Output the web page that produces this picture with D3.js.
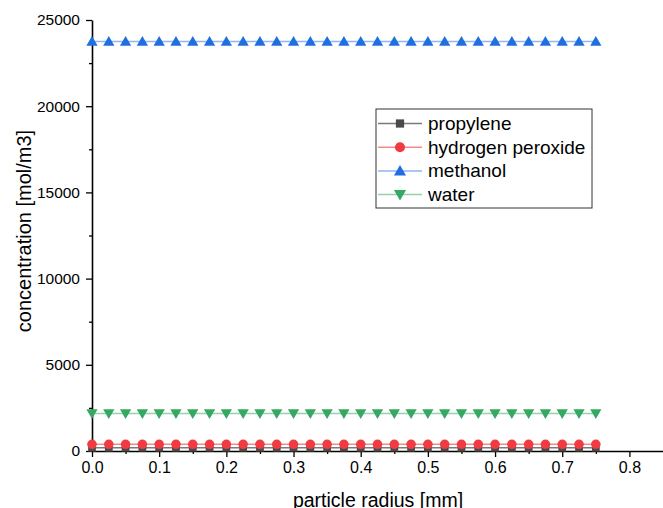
<!DOCTYPE html>
<html>
<head>
<meta charset="utf-8">
<script src="https://cdn.jsdelivr.net/npm/d3@7"></script>
<style>
  body { margin: 0; background: #fff; }
  svg { font-family: "Liberation Sans", Arial, sans-serif; }
</style>
</head>
<body>
<script>
// data
const radius = [0, 0.025, 0.05, 0.075, 0.1, 0.125, 0.15, 0.175, 0.2, 0.225, 0.25, 0.275, 0.3,
  0.325, 0.35, 0.375, 0.4, 0.425, 0.45, 0.475, 0.5, 0.525, 0.55, 0.575, 0.6, 0.625, 0.65,
  0.675, 0.7, 0.725, 0.75]
const seriesNames = ['propylene', 'hydrogen peroxide', 'methanol', 'water']
const propylene = radius.map(() => 190)
const hydrogenPeroxide = radius.map(() => 390)
const methanol = radius.map(() => 23750)
const water = radius.map(() => 2170)
const xTicks = [0, 0.1, 0.2, 0.3, 0.4, 0.5, 0.6, 0.7, 0.8]
const yTicks = [0, 5000, 10000, 15000, 20000, 25000]

const series = [
  {name: seriesNames[0], values: propylene, line: '#7a7a7a', fill: '#4a4a4a', sym: d3.symbolSquare, size: 60, rot: 0},
  {name: seriesNames[1], values: hydrogenPeroxide, line: '#f28a8c', fill: '#ef3b41', sym: d3.symbolCircle, size: 72, rot: 0},
  {name: seriesNames[2], values: methanol, line: '#8fb6ee', fill: '#1f6fde', sym: d3.symbolTriangle, size: 55, rot: 0},
  {name: seriesNames[3], values: water, line: '#92d3ad', fill: '#35a862', sym: d3.symbolTriangle, size: 55, rot: 180}
]

const W = 663, H = 508
const margin = {top: 20, right: 0, bottom: 57, left: 92}

const svg = d3.select('body').append('svg')
  .attr('width', W)
  .attr('height', H)

const x = d3.scaleLinear().domain([0, 0.85]).range([margin.left, W - margin.right])
const y = d3.scaleLinear().domain([0, 25000]).range([H - margin.bottom, margin.top])

// axes
const xAxis = d3.axisBottom(x).tickValues(xTicks).tickFormat(d3.format('.1f')).tickSize(6).tickPadding(5).tickSizeOuter(0)
const gx = svg.append('g')
  .attr('transform', `translate(0,${y(0)})`)
  .call(xAxis)
gx.selectAll('text').style('font-size', '16px').attr('fill', '#000')
gx.select('.domain').attr('stroke-width', 1.6)
gx.selectAll('.tick line').attr('stroke-width', 1.3)
svg.append('g')
  .attr('transform', `translate(0,${y(0)})`)
  .call(d3.axisBottom(x).tickValues(d3.range(0.05, 0.85, 0.1)).tickSize(3).tickFormat('').tickSizeOuter(0))
  .call(g => g.select('.domain').remove())
  .selectAll('line').attr('stroke-width', 1.3)

const yAxis = d3.axisLeft(y).tickValues(yTicks).tickFormat(d3.format('d')).tickSize(6).tickPadding(6).tickSizeOuter(0)
const gy = svg.append('g')
  .attr('transform', `translate(${x(0)},0)`)
  .call(yAxis)
gy.selectAll('text').style('font-size', '15.5px').attr('fill', '#000')
gy.select('.domain').attr('stroke-width', 1.6)
gy.selectAll('.tick line').attr('stroke-width', 1.3)
svg.append('g')
  .attr('transform', `translate(${x(0)},0)`)
  .call(d3.axisLeft(y).tickValues(d3.range(2500, 25000, 5000)).tickSize(3).tickFormat('').tickSizeOuter(0))
  .call(g => g.select('.domain').remove())
  .selectAll('line').attr('stroke-width', 1.3)

// titles
svg.append('text')
  .attr('x', 378)
  .attr('y', 507)
  .attr('text-anchor', 'middle')
  .style('font-size', '19.5px')
  .text('particle radius [mm]')
svg.append('text')
  .attr('transform', `translate(31,231) rotate(-90)`)
  .attr('text-anchor', 'middle')
  .style('font-size', '20px')
  .text('concentration [mol/m3]')

// series
const line = d3.line().x((d, i) => x(radius[i])).y(d => y(d))
series.forEach(s => {
  svg.append('path')
    .datum(s.values)
    .attr('fill', 'none')
    .attr('stroke', s.line)
    .attr('stroke-width', 1.5)
    .attr('d', line)
  svg.append('g').selectAll('path')
    .data(s.values)
    .join('path')
    .attr('transform', (d, i) => `translate(${x(radius[i])},${y(d) + (s.sym === d3.symbolTriangle ? (s.rot ? -1 : 1) : 0)}) rotate(${s.rot})`)
    .attr('d', d3.symbol(s.sym, s.size))
    .attr('fill', s.fill)
})

// legend
const lg = svg.append('g').attr('transform', 'translate(376,109)')
lg.append('rect')
  .attr('width', 216).attr('height', 99)
  .attr('fill', '#fff').attr('stroke', '#333').attr('stroke-width', 1)
series.forEach((s, i) => {
  const cy = 14.5 + i * 23.7
  lg.append('line').attr('x1', 2).attr('x2', 46).attr('y1', cy).attr('y2', cy)
    .attr('stroke', s.line).attr('stroke-width', 1.5)
  lg.append('path')
    .attr('transform', `translate(24,${cy + (s.sym === d3.symbolTriangle ? (s.rot ? -1 : 1) : 0)}) rotate(${s.rot})`)
    .attr('d', d3.symbol(s.sym, s.size + 8))
    .attr('fill', s.fill)
  lg.append('text').attr('x', 52).attr('y', cy + 6.5)
    .style('font-size', '19px')
    .text(s.name)
})
</script>
</body>
</html>
